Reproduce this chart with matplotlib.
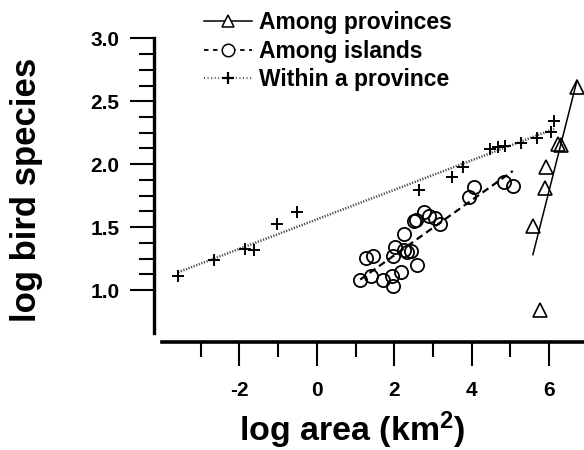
import numpy as np
import matplotlib
matplotlib.use('Agg')
import matplotlib.pyplot as plt
from matplotlib.ticker import FixedLocator

# ---------------- data ----------------
# among provinces (triangles)
prov_x = [5.58, 5.77, 5.90, 5.92, 6.24, 6.30, 6.72]
prov_y = [1.51, 0.84, 1.81, 1.98, 2.16, 2.155, 2.61]

# among islands (circles)
isl_x = [1.12, 1.39, 1.28, 1.44, 1.72, 1.96, 1.95, 2.18, 1.97, 2.02,
         2.24, 2.32, 2.44, 2.26, 2.60, 2.51, 2.56, 2.77, 2.91, 3.06,
         3.19, 3.94, 4.06, 4.84, 5.06]
isl_y = [1.08, 1.115, 1.255, 1.27, 1.08, 1.036, 1.11, 1.145, 1.27, 1.345,
         1.32, 1.30, 1.31, 1.445, 1.20, 1.546, 1.554, 1.617, 1.59, 1.573,
         1.528, 1.737, 1.82, 1.86, 1.83]

# within a province (plus signs)
wp_x = [-3.58, -2.65, -1.85, -1.62, -1.03, -0.52, 2.65, 3.49, 3.78,
        4.48, 4.67, 4.85, 5.27, 5.69, 6.05, 6.13]
wp_y = [1.11, 1.24, 1.33, 1.32, 1.525, 1.62, 1.795, 1.90, 1.98,
        2.12, 2.135, 2.145, 2.17, 2.21, 2.255, 2.34]

labels = ['Among provinces', 'Among islands', 'Within a province']

# ---------------- style ----------------
plt.rcParams['font.family'] = ['Liberation Sans', 'DejaVu Sans']
plt.rcParams['font.weight'] = 'bold'
plt.rcParams['axes.unicode_minus'] = False
plt.rcParams['mathtext.fontset'] = 'custom'
plt.rcParams['mathtext.rm'] = 'Liberation Sans:bold'
plt.rcParams['mathtext.it'] = 'Liberation Sans:bold'
plt.rcParams['mathtext.bf'] = 'Liberation Sans:bold'

W, H = 584, 450
fig = plt.figure(figsize=(W / 100, H / 100), dpi=100)
x0, x1 = 161.9, 584.0
y0, y1 = 333.0, 38.3
ax = fig.add_axes([x0 / W, 1 - y0 / H, (x1 - x0) / W, (y0 - y1) / H])


def fit_line(x, y):
    x = np.asarray(x)
    b, a = np.polyfit(x, y, 1)
    xs = np.array([x.min(), x.max()])
    return xs, a + b * xs


# fitted lines
xs, ys = fit_line(prov_x, prov_y)
ax.plot(xs, ys, color='black', lw=1.1)
xs, ys = fit_line(isl_x, isl_y)
ax.plot(xs, ys, color='black', lw=1.6, dashes=(3.2, 2.0))
xs, ys = fit_line(wp_x, wp_y)
ax.plot(xs, ys, color='0.3', lw=1.8, dashes=(0.5, 0.6))

# points
ax.plot(prov_x, prov_y, ls='none', marker='^', ms=9.5, mfc='none',
        mec='black', mew=1.2, clip_on=False)
ax.plot(isl_x, isl_y, ls='none', marker='o', ms=9.5, mfc='none',
        mec='black', mew=1.3, clip_on=False)
ax.plot(wp_x, wp_y, ls='none', marker='+', ms=8, mec='black', mew=1.4,
        clip_on=False)

# legend proxies
h1, = ax.plot([], [], color='black', lw=1.1, marker='^', ms=9,
              mfc='white', mec='black', mew=1.1)
h2, = ax.plot([], [], color='black', lw=1.3, dashes=(2.5, 2.5), marker='o',
              ms=9, mfc='white', mec='black', mew=1.1)
h3, = ax.plot([], [], color='0.35', lw=1.5, dashes=(0.5, 1.2), marker='+',
              ms=9, mec='black', mew=1.6)
ax.legend([h1, h2, h3], labels, loc='upper left',
          bbox_to_anchor=(204 / W, 1 - 11 / H), bbox_transform=fig.transFigure,
          frameon=False, fontsize=16.5, handlelength=2.1, handletextpad=0.3,
          labelspacing=0.25, borderpad=0, borderaxespad=0, numpoints=1)

# axes limits and spines
ax.set_xlim(-4.0, 6.9)
ax.set_ylim(0.66, 3.0)
for s in ['top', 'right']:
    ax.spines[s].set_visible(False)
ax.spines['left'].set_position(('outward', 5.7))
ax.spines['bottom'].set_position(('outward', 6.3))
ax.spines['left'].set_linewidth(2.4)
ax.spines['bottom'].set_linewidth(2.6)

ax.xaxis.set_major_locator(FixedLocator([-2, 0, 2, 4, 6]))
ax.xaxis.set_minor_locator(FixedLocator([-3, -1, 1, 3, 5]))
ax.yaxis.set_major_locator(FixedLocator([1.0, 1.5, 2.0, 2.5, 3.0]))
ax.yaxis.set_minor_locator(FixedLocator(np.arange(1.0, 3.01, 0.125)))
ax.set_yticklabels(['1.0', '1.5', '2.0', '2.5', '3.0'])
ax.set_xticklabels(['-2', '0', '2', '4', '6'])

ax.tick_params(which='major', length=17, width=1.5, labelsize=15)
ax.tick_params(which='minor', length=11, width=1.5)
ax.tick_params(axis='y', which='major', pad=8)
ax.tick_params(axis='x', which='major', pad=11)

fig.text(27 / W, 1 - 190 / H, 'log bird species', rotation=90,
         ha='center', va='center', fontsize=25, fontweight='bold')
fig.text(351.7 / W, 1 - 441 / H, 'log area (km$^2$)', ha='center',
         va='baseline', fontsize=24.5, fontweight='bold')

fig.savefig('out.png', dpi=100)
